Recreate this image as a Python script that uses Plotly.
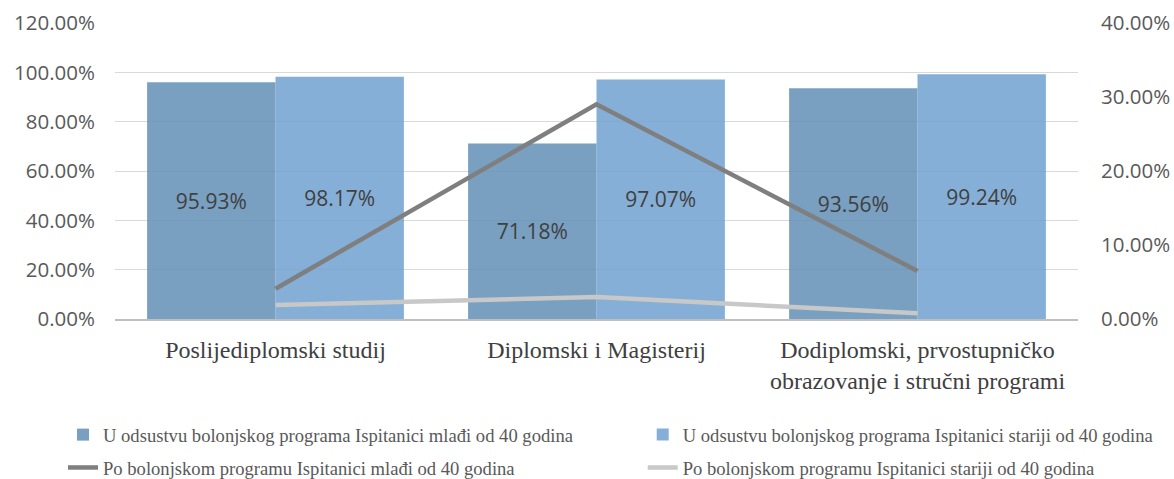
import plotly.graph_objects as go

# Categories (study programmes)
categories = [
    "Poslijediplomski studij",
    "Diplomski i Magisterij",
    "Dodiplomski, prvostupničko<br>obrazovanje i stručni programi",
]

# Share of respondents, primary axis (bars)
bez_bolonje_mladi = [0.9593, 0.7118, 0.9356]
bez_bolonje_stariji = [0.9817, 0.9707, 0.9924]

# Share of respondents, secondary axis (lines)
bolonja_mladi = [0.0409, 0.2901, 0.0649]
bolonja_stariji = [0.0189, 0.0297, 0.0077]

names = [
    "U odsustvu bolonjskog programa Ispitanici mlađi od 40 godina",
    "U odsustvu bolonjskog programa Ispitanici stariji od 40 godina",
    "Po bolonjskom programu Ispitanici mlađi od 40 godina",
    "Po bolonjskom programu Ispitanici stariji od 40 godina",
]

sans = "Open Sans"
serif = "Liberation Serif"

fig = go.Figure()

fig.add_trace(go.Bar(
    x=categories, y=bez_bolonje_mladi, name=names[0],
    marker=dict(color="rgba(98,142,182,0.85)", line=dict(width=0)),
    texttemplate="%{y:.2%}", textposition="inside", insidetextanchor="middle",
    textangle=0, constraintext="none",
    textfont=dict(family=sans, size=21, color="#404040"),
    legend="legend",
))
fig.add_trace(go.Bar(
    x=categories, y=bez_bolonje_stariji, name=names[1],
    marker=dict(color="rgba(112,161,207,0.85)", line=dict(width=0)),
    texttemplate="%{y:.2%}", textposition="inside", insidetextanchor="middle",
    textangle=0, constraintext="none",
    textfont=dict(family=sans, size=21, color="#404040"),
    legend="legend2",
))
fig.add_trace(go.Scatter(
    x=categories, y=bolonja_mladi, name=names[2], yaxis="y2",
    mode="lines", line=dict(color="#7F7F7F", width=4.5),
    legend="legend3",
))
fig.add_trace(go.Scatter(
    x=categories, y=bolonja_stariji, name=names[3], yaxis="y2",
    mode="lines", line=dict(color="#C8C8C8", width=4.5),
    legend="legend4",
))

legend_common = dict(
    orientation="h", xanchor="left", yanchor="middle",
    font=dict(family=serif, size=18.6, color="#595959"),
    bgcolor="rgba(0,0,0,0)", itemclick=False,
)
col1, col2 = -0.054, 0.548
row1, row2 = -0.392, -0.503

fig.update_layout(
    width=1174, height=479,
    margin=dict(l=115, r=96, t=23, b=160, autoexpand=False),
    paper_bgcolor="white", plot_bgcolor="white",
    barmode="group", bargap=0.2, bargroupgap=0,
    showlegend=True,
    legend=dict(x=col1, y=row1, **legend_common),
    legend2=dict(x=col2, y=row1, **legend_common),
    legend3=dict(x=col1, y=row2, **legend_common),
    legend4=dict(x=col2, y=row2, **legend_common),
    xaxis=dict(
        type="category",
        showline=True, linecolor="#BFBFBF", linewidth=1.5,
        showgrid=False, ticks="",
        tickfont=dict(family=serif, size=24, color="#404040"),
        ticklabelstandoff=8,
    ),
    yaxis=dict(
        range=[0, 1.2], dtick=0.2, tickformat=".2%",
        showgrid=True, gridcolor="#D9D9D9", gridwidth=1,
        zeroline=False, showline=False, ticks="",
        tickfont=dict(family=sans, size=20.5, color="#595959"),
        ticklabelstandoff=19,
    ),
    yaxis2=dict(
        overlaying="y", side="right",
        range=[0, 0.4], dtick=0.1, tickformat=".2%",
        showgrid=False, zeroline=False, showline=False, ticks="",
        tickfont=dict(family=sans, size=20.5, color="#595959"),
        ticklabelstandoff=22,
    ),
)

fig.write_html("out.html")
